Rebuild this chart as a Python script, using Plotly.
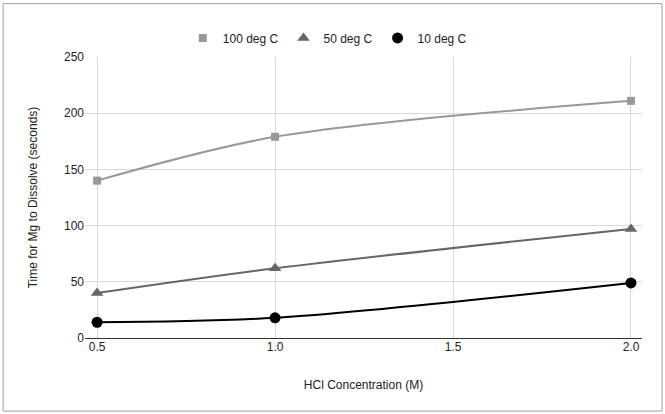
import plotly.graph_objects as go

# HCl concentration (M)
conc = [0.5, 1.0, 2.0]

# time for Mg to dissolve (seconds)
t_100 = [140, 179, 211]
t_50 = [40, 62, 97]
t_10 = [14, 18, 49]

x_ticks = [0.5, 1.0, 1.5, 2.0]
y_ticks = [0, 50, 100, 150, 200, 250]

series = [
    ("100 deg C", t_100, "#999999", "square", 8),
    ("50 deg C", t_50, "#666666", "triangle-up", 11),
    ("10 deg C", t_10, "#000000", "circle", 11),
]

fig = go.Figure()

# smoothed lines (no legend) then markers (legend shows marker only)
for name, vals, col, sym, sz in series:
    fig.add_trace(go.Scatter(
        x=conc, y=vals, mode="lines", showlegend=False, hoverinfo="skip",
        line=dict(color=col, width=2, shape="spline", smoothing=0.9),
    ))
for name, vals, col, sym, sz in series:
    fig.add_trace(go.Scatter(
        x=conc, y=vals, name=name, mode="markers",
        marker=dict(symbol=sym, size=sz, color=col),
    ))

# outer chart border (sheet-style box)
fig.add_shape(type="rect", xref="paper", yref="paper",
              x0=-0.147, x1=1.036, y0=-0.26, y1=1.19,
              line=dict(color="#9e9e9e", width=1), layer="below")

fig.update_layout(
    width=665, height=414,
    margin=dict(l=85, r=23, t=57, b=76, autoexpand=False),
    paper_bgcolor="white", plot_bgcolor="white",
    font=dict(family="Liberation Sans, Arial, sans-serif", size=12, color="#222222"),
    showlegend=True,
    legend=dict(orientation="h", x=0.435, xanchor="center", y=1.068, yanchor="middle",
                font=dict(size=12, color="#222222"), itemwidth=30),
    xaxis=dict(
        range=[0.466, 2.031], tickvals=x_ticks, ticktext=["0.5", "1.0", "1.5", "2.0"],
        showgrid=True, gridcolor="#d9d9d9", zeroline=False, showline=False,
        ticks="", automargin=False,
        title=dict(text="HCl Concentration (M)", standoff=27,
                   font=dict(size=12, color="#222222"))
    ),
    yaxis=dict(
        range=[0, 250], tickvals=y_ticks,
        showgrid=True, gridcolor="#d9d9d9", zeroline=True, zerolinecolor="#333333",
        zerolinewidth=1, showline=False, ticks="", automargin=False,
        title=dict(text="Time for Mg to Dissolve (seconds)", standoff=23,
                   font=dict(size=12, color="#222222"))
    ),
)

# drop the page's default body margin so the chart sits at the window origin
fig.write_html("out.html", config={"displayModeBar": False},
               post_script="document.body.style.margin='0';")
